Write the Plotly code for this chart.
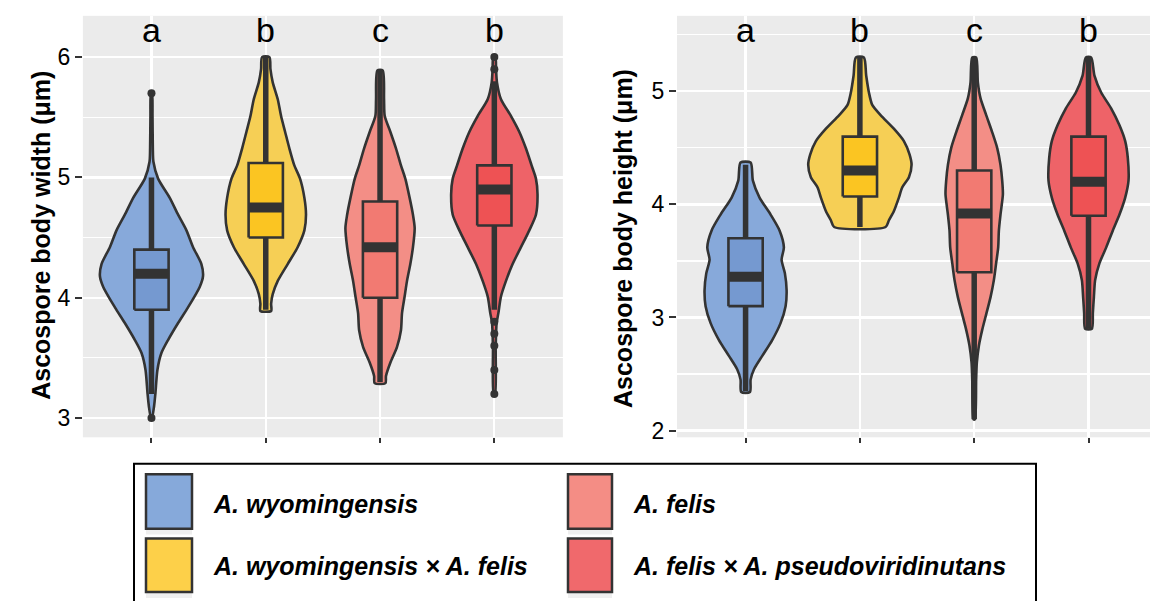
import plotly.graph_objects as go

# ---------------- data ----------------
CATS = [1, 2, 3, 4]
SIG_LETTERS = ["a", "b", "c", "b"]
SPECIES = ["A. wyomingensis", "A. wyomingensis × A. felis", "A. felis",
           "A. felis × A. pseudoviridinutans"]

VIOLIN_FILL = ["#87A9DA", "#F6CF55", "#F38E86", "#EE6368"]
BOX_FILL = ["#7599D0", "#FBC522", "#F27A72", "#EE5254"]
KEY_FILL = ["#86A9DA", "#FDD049", "#F48D85", "#F0696C"]

# Ascospore body width: violin density outlines (value, half-width)
WYO_W_Y = [5.71, 5.51, 5.24, 5.13, 4.99, 4.83, 4.69, 4.56, 4.42, 4.28, 4.18, 4.09, 3.92, 3.79, 3.65, 3.54, 3.40, 3.21, 3.10, 3.00]
WYO_W_HW = [0.004, 0.009, 0.012, 0.017, 0.058, 0.160, 0.233, 0.306, 0.364, 0.437, 0.451, 0.422, 0.320, 0.233, 0.146, 0.087, 0.052, 0.035, 0.023, 0.004]
WXF_W_Y = [6.00, 5.90, 5.79, 5.65, 5.51, 5.38, 5.24, 5.10, 4.99, 4.83, 4.69, 4.56, 4.42, 4.28, 4.14, 4.03, 3.95, 3.89]
WXF_W_HW = [0.032, 0.041, 0.061, 0.105, 0.134, 0.169, 0.207, 0.250, 0.300, 0.338, 0.352, 0.338, 0.279, 0.192, 0.105, 0.061, 0.047, 0.047]
FEL_W_Y = [5.89, 5.65, 5.51, 5.38, 5.24, 5.10, 4.99, 4.83, 4.69, 4.58, 4.42, 4.28, 4.14, 4.01, 3.87, 3.73, 3.59, 3.46, 3.35, 3.29]
FEL_W_HW = [0.023, 0.035, 0.041, 0.090, 0.140, 0.183, 0.221, 0.259, 0.288, 0.303, 0.288, 0.265, 0.236, 0.215, 0.192, 0.183, 0.148, 0.090, 0.052, 0.047]
FXP_W_Y = [6.00, 5.90, 5.79, 5.65, 5.51, 5.38, 5.24, 5.10, 4.99, 4.86, 4.69, 4.56, 4.42, 4.28, 4.14, 4.01, 3.87, 3.79, 3.59, 3.20]
FXP_W_HW = [0.009, 0.015, 0.023, 0.058, 0.146, 0.218, 0.277, 0.326, 0.364, 0.378, 0.364, 0.306, 0.233, 0.160, 0.102, 0.058, 0.035, 0.020, 0.012, 0.006]

# Ascospore body height: violin density outlines (value, half-width)
WYO_H_Y = [4.37, 4.21, 4.06, 3.91, 3.77, 3.62, 3.51, 3.39, 3.24, 3.10, 2.95, 2.80, 2.66, 2.54, 2.45, 2.34]
WYO_H_HW = [0.044, 0.064, 0.122, 0.219, 0.297, 0.335, 0.315, 0.344, 0.359, 0.350, 0.306, 0.233, 0.146, 0.073, 0.044, 0.038]
WXF_H_Y = [5.30, 5.14, 4.99, 4.88, 4.79, 4.67, 4.56, 4.44, 4.35, 4.24, 4.15, 4.06, 3.94, 3.86, 3.80]
WXF_H_HW = [0.035, 0.055, 0.079, 0.108, 0.181, 0.297, 0.385, 0.435, 0.452, 0.429, 0.370, 0.341, 0.297, 0.254, 0.225]
FEL_H_Y = [5.30, 5.08, 4.94, 4.79, 4.64, 4.50, 4.35, 4.21, 4.09, 3.91, 3.77, 3.62, 3.48, 3.33, 3.18, 3.04, 2.89, 2.75, 2.60, 2.45, 2.10]
FEL_H_HW = [0.017, 0.032, 0.055, 0.105, 0.157, 0.201, 0.230, 0.245, 0.251, 0.230, 0.216, 0.210, 0.192, 0.172, 0.143, 0.108, 0.070, 0.041, 0.023, 0.017, 0.006]
FXP_H_Y = [5.30, 5.14, 4.99, 4.85, 4.70, 4.56, 4.41, 4.21, 4.06, 3.91, 3.77, 3.62, 3.48, 3.33, 3.18, 3.04, 2.90]
FXP_H_HW = [0.023, 0.052, 0.111, 0.198, 0.271, 0.321, 0.344, 0.350, 0.321, 0.271, 0.213, 0.155, 0.096, 0.058, 0.047, 0.038, 0.029]

# Box statistics
W_LO = [3.2, 3.9, 3.3, 3.9]
W_Q1 = [3.9, 4.5, 4.0, 4.6]
W_MED = [4.2, 4.75, 4.42, 4.9]
W_Q3 = [4.4, 5.12, 4.8, 5.1]
W_HI = [5.0, 6.0, 5.9, 5.8]
W_OUT_X = [1, 1, 4, 4, 4, 4, 4, 4, 4]
W_OUT_Y = [5.7, 3.0, 6.0, 5.9, 3.8, 3.7, 3.6, 3.4, 3.2]

H_LO = [2.35, 3.8, 2.1, 2.9]
H_Q1 = [3.1, 4.07, 3.4, 3.9]
H_MED = [3.36, 4.3, 3.92, 4.2]
H_Q3 = [3.7, 4.6, 4.3, 4.6]
H_HI = [4.35, 5.3, 5.3, 5.3]

W_TICKS = [3, 4, 5, 6]
W_MINOR = [3.5, 4.5, 5.5]
H_TICKS = [2, 3, 4, 5]
H_MINOR = [2.5, 3.5, 4.5, 5.5]

W_PROFILES = [(WYO_W_Y, WYO_W_HW), (WXF_W_Y, WXF_W_HW), (FEL_W_Y, FEL_W_HW), (FXP_W_Y, FXP_W_HW)]
H_PROFILES = [(WYO_H_Y, WYO_H_HW), (WXF_H_Y, WXF_H_HW), (FEL_H_Y, FEL_H_HW), (FXP_H_Y, FXP_H_HW)]

# ---------------- figure ----------------
W, H = 1150, 601   # reference frame used for placing panels (fractions of the page)
DARK = "#333333"
FONT = "Liberation Sans, Arial, sans-serif"
BOX_HW = 0.15

fig = go.Figure()


def add_panel(xa, ya, profiles, lo, q1, med, q3, hi, out_x, out_y):
    for i, c in enumerate(CATS):
        ys, hw = profiles[i]
        px = [c + h for h in hw] + [c - h for h in reversed(hw)]
        py = list(ys) + list(reversed(ys))
        px.append(px[0]); py.append(py[0])
        fig.add_trace(go.Scatter(x=px, y=py, mode="lines", fill="toself",
                                 fillcolor=VIOLIN_FILL[i],
                                 line=dict(color=DARK, width=2.6, shape="spline", smoothing=0.7),
                                 xaxis=xa, yaxis=ya, showlegend=False, hoverinfo="skip"))
    for i, c in enumerate(CATS):
        # whiskers
        fig.add_trace(go.Scatter(x=[c, c, None, c, c], y=[lo[i], q1[i], None, q3[i], hi[i]],
                                 mode="lines", line=dict(color=DARK, width=5.5),
                                 xaxis=xa, yaxis=ya, showlegend=False, hoverinfo="skip"))
        # box
        fig.add_trace(go.Scatter(x=[c - BOX_HW, c + BOX_HW, c + BOX_HW, c - BOX_HW, c - BOX_HW],
                                 y=[q1[i], q1[i], q3[i], q3[i], q1[i]],
                                 mode="lines", fill="toself", fillcolor=BOX_FILL[i],
                                 line=dict(color=DARK, width=2.6),
                                 xaxis=xa, yaxis=ya, showlegend=False, hoverinfo="skip"))
        # median
        fig.add_trace(go.Scatter(x=[c - BOX_HW, c + BOX_HW], y=[med[i], med[i]],
                                 mode="lines", line=dict(color=DARK, width=10),
                                 xaxis=xa, yaxis=ya, showlegend=False, hoverinfo="skip"))
    if out_x:
        fig.add_trace(go.Scatter(x=out_x, y=out_y, mode="markers",
                                 marker=dict(color=DARK, size=8),
                                 xaxis=xa, yaxis=ya, showlegend=False, hoverinfo="skip"))


add_panel("x", "y", W_PROFILES, W_LO, W_Q1, W_MED, W_Q3, W_HI, W_OUT_X, W_OUT_Y)
add_panel("x2", "y2", H_PROFILES, H_LO, H_Q1, H_MED, H_Q3, H_HI, [], [])

# significance letters
for xa, ya, yv in (("x", "y", 6.225), ("x2", "y2", 5.545)):
    for c, lt in zip(CATS, SIG_LETTERS):
        fig.add_annotation(x=c, y=yv, xref=xa, yref=ya, text=lt, showarrow=False,
                           font=dict(size=34, color="black", family=FONT))

axis_common = dict(showline=False, zeroline=False, showgrid=True, gridcolor="white",
                   ticks="outside", tickcolor=DARK, tickwidth=2)

fig.update_layout(
    autosize=True,
    margin=dict(l=0, r=0, t=0, b=0, pad=0),
    paper_bgcolor="white", plot_bgcolor="#EBEBEB",
    font=dict(family=FONT, color="black"),
    showlegend=False,
    hovermode=False,
    xaxis=dict(domain=[82.9 / W, 562.9 / W], range=[0.4, 4.6], tickvals=CATS,
               showticklabels=False, ticklen=5, gridwidth=2.2, anchor="y", **axis_common),
    yaxis=dict(domain=[1 - 441.7 / H, 1 - 16 / H], range=[2.84, 6.343], tickvals=W_TICKS,
               ticklen=7, gridwidth=2.2, tickfont=dict(size=23, color="black"), anchor="x",
               minor=dict(tickvals=W_MINOR, showgrid=True, gridcolor="white", gridwidth=1.2, ticks=""),
               **axis_common),
    xaxis2=dict(domain=[677 / W, 1.0], range=[0.4, 4.538], tickvals=CATS,
                showticklabels=False, ticklen=5, gridwidth=2.2, anchor="y2", **axis_common),
    yaxis2=dict(domain=[1 - 441.7 / H, 1 - 16 / H], range=[1.94, 5.668], tickvals=H_TICKS,
                ticklen=7, gridwidth=2.2, tickfont=dict(size=23, color="black"), anchor="x2",
                minor=dict(tickvals=H_MINOR, showgrid=True, gridcolor="white", gridwidth=1.2, ticks=""),
                **axis_common),
)

# axis titles
fig.add_annotation(x=24.7 / W, y=1 - 237.5 / H, xref="paper", yref="paper",
                   text="<b>Ascospore body width (μm)</b>", textangle=-90, showarrow=False,
                   font=dict(size=25, color="black", family=FONT))
fig.add_annotation(x=623.6 / W, y=1 - 240.8 / H, xref="paper", yref="paper",
                   text="<b>Ascospore body height (μm)</b>", textangle=-90, showarrow=False,
                   font=dict(size=25, color="black", family=FONT))

# legend box
fig.add_shape(type="rect", xref="paper", yref="paper",
              x0=134 / W, x1=1036 / W, y0=-0.05, y1=1 - 468.5 / H,
              line=dict(color="black", width=2), fillcolor="white", layer="above")

leg_order = [0, 2, 1, 3]  # row-major: wyo, felis / wyo x felis, felis x pseudo
key_cols = [(146, 192, 211), (568, 612, 631)]
key_rows = [(479, 534, 509), (544, 598, 572)]
for n, idx in enumerate(leg_order):
    r, cidx = divmod(n, 2)
    kx0, kx1, tx = key_cols[cidx]
    ky0, ky1, ty = key_rows[r]
    fig.add_shape(type="rect", xref="paper", yref="paper",
                  x0=kx0 / W, x1=kx1 / W, y0=1 - (ky1 + 6) / H, y1=1 - ky0 / H,
                  line=dict(width=0), fillcolor="#EFEFEF", layer="above")
    fig.add_shape(type="rect", xref="paper", yref="paper",
                  x0=kx0 / W, x1=kx1 / W, y0=1 - ky1 / H, y1=1 - ky0 / H,
                  line=dict(color=DARK, width=2.5), fillcolor=KEY_FILL[idx], layer="above")
    fig.add_annotation(x=tx / W, y=1 - ty / H, xref="paper", yref="paper",
                       text="<b><i>" + SPECIES[idx] + "</i></b>", showarrow=False,
                       xanchor="left", yanchor="middle",
                       font=dict(size=25, color="black", family=FONT))

POST = ("document.documentElement.style.margin='0';"
        "document.documentElement.style.overflow='hidden';"
        "document.body.style.margin='0';document.body.style.overflow='hidden';"
        "var d=document.getElementById('{plot_id}');"
        "d.style.position='fixed';d.style.left='0px';d.style.top='0px';"
        "d.style.width='100vw';d.style.height='100vh';"
        "Plotly.Plots.resize(d);")

fig.write_html("out.html", config={"displayModeBar": False, "staticPlot": True, "responsive": True},
               default_width="100vw", default_height="100vh", post_script=POST)
